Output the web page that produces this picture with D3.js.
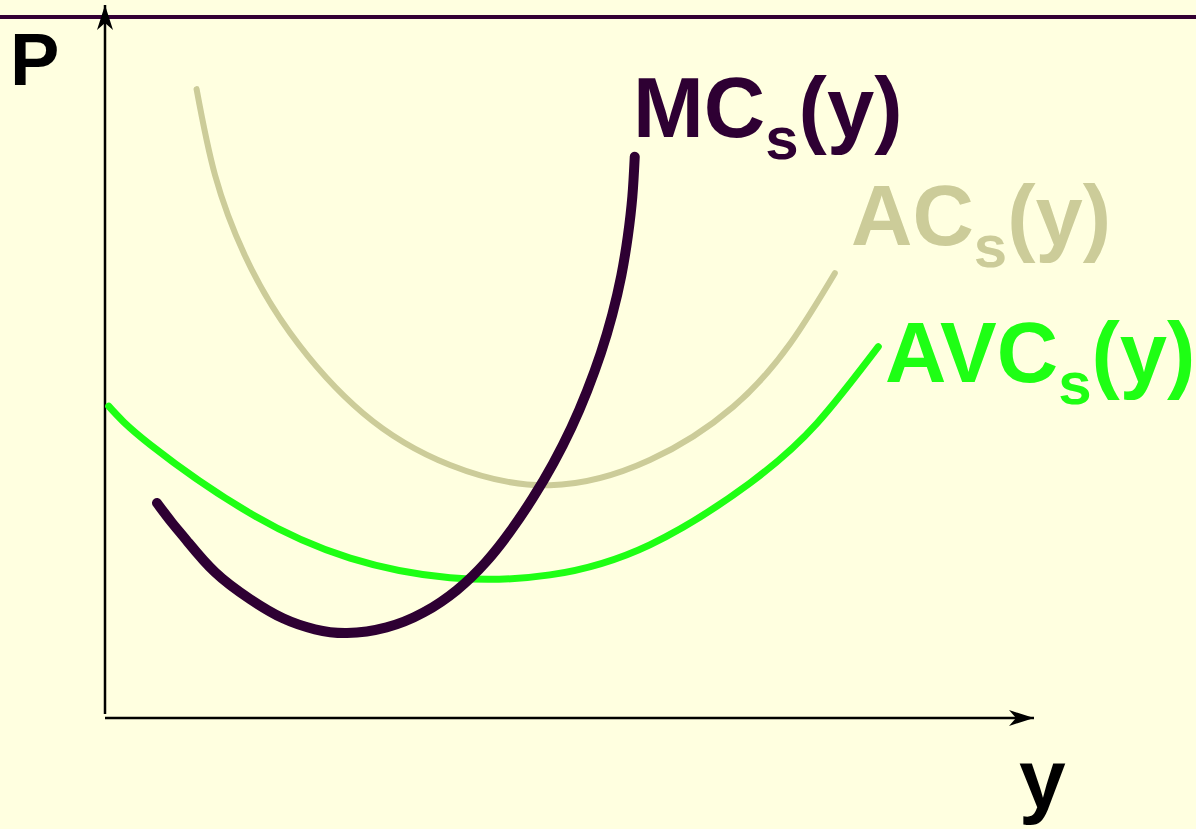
<!DOCTYPE html>
<html>
<head>
<meta charset="utf-8">
<script src="https://cdn.jsdelivr.net/npm/d3@7"></script>
<style>
  html, body { margin: 0; padding: 0; background: #FFFFE0; }
  svg { display: block; }
  text { font-family: "Liberation Sans", Arial, sans-serif; font-weight: bold; }
</style>
</head>
<body>
<svg id="chart" width="1196" height="829"></svg>
<script>
// Short-run cost curves: output y on the horizontal axis, price P on the vertical.
const mcOutput  = [0.562, 0.724, 0.886, 1.189, 1.568, 1.924, 2.270, 2.616, 3.044, 3.445, 3.804, 4.116,
                   4.385, 4.627, 4.846, 5.042, 5.212, 5.360, 5.483, 5.581, 5.652, 5.701, 5.727];
const mcPrice   = [3.057, 2.775, 2.517, 2.069, 1.684, 1.410, 1.253, 1.200, 1.280, 1.494, 1.814, 2.211,
                   2.659, 3.133, 3.624, 4.134, 4.660, 5.197, 5.744, 6.301, 6.866, 7.433, 8.003];

const acOutput  = [0.99, 1.19, 1.51, 2.00, 2.79, 3.73, 4.81, 5.89, 6.79, 7.41, 7.89];
const acPrice   = [8.97, 7.74, 6.60, 5.49, 4.34, 3.60, 3.31, 3.67, 4.43, 5.34, 6.34];

const avcOutput = [0.04, 0.49, 1.57, 2.65, 3.73, 4.81, 5.89, 6.97, 7.70, 8.36];
const avcPrice  = [4.44, 3.89, 2.91, 2.27, 1.99, 2.03, 2.46, 3.34, 4.20, 5.29];

const curveNames = ["MC", "AC", "AVC"];
const axisLabels = ["P", "y"];

const W = 1196, H = 829;
const svg = d3.select("#chart");

const x = d3.scaleLinear().domain([0, 10]).range([105, 1030]);
const y = d3.scaleLinear().domain([0, 10]).range([717, 17]);

svg.append("rect").attr("width", W).attr("height", H).attr("fill", "#FFFFE0");

// arrowheads for the axes
const defs = svg.append("defs");
defs.append("marker")
  .attr("id", "arrow")
  .attr("viewBox", "0 0 26 18")
  .attr("refX", 25).attr("refY", 9)
  .attr("markerWidth", 26).attr("markerHeight", 18)
  .attr("markerUnits", "userSpaceOnUse")
  .attr("orient", "auto")
  .append("path")
  .attr("d", "M0,1 L25,9 L0,17 L7,9 Z")
  .attr("fill", "#000");

// horizontal rule across the top
svg.append("line")
  .attr("x1", 0).attr("x2", W)
  .attr("y1", y(10)).attr("y2", y(10))
  .attr("stroke", "#330033").attr("stroke-width", 4);

// axes
svg.append("line")
  .attr("x1", x(0)).attr("y1", y(0) - 3)
  .attr("x2", x(0)).attr("y2", 5)
  .attr("stroke", "#000").attr("stroke-width", 2.5)
  .attr("marker-end", "url(#arrow)");

svg.append("line")
  .attr("x1", x(0)).attr("y1", y(0) + 1)
  .attr("x2", 1034).attr("y2", y(0) + 1)
  .attr("stroke", "#000").attr("stroke-width", 2.5)
  .attr("marker-end", "url(#arrow)");

const line = d3.line()
  .x(d => x(d[0]))
  .y(d => y(d[1]))
  .curve(d3.curveNatural);

const series = [
  { name: curveNames[1], xs: acOutput,  ys: acPrice,  color: "#CCCC99", width: 6 },
  { name: curveNames[2], xs: avcOutput, ys: avcPrice, color: "#1EFF14", width: 7 },
  { name: curveNames[0], xs: mcOutput,  ys: mcPrice,  color: "#2E0033", width: 10 }
];

series.forEach(s => {
  svg.append("path")
    .datum(s.xs.map((v, i) => [v, s.ys[i]]))
    .attr("d", line)
    .attr("fill", "none")
    .attr("stroke", s.color)
    .attr("stroke-width", s.width)
    .attr("stroke-linecap", "round")
    .attr("stroke-linejoin", "round");
});

// curve labels: name, subscript s, then (y)
function costLabel(name, color, lx, ly) {
  const t = svg.append("text")
    .attr("x", lx).attr("y", ly)
    .attr("fill", color)
    .attr("font-size", 85);
  t.append("tspan").text(name);
  t.append("tspan").attr("font-size", 60).attr("dy", 22).text("s");
  t.append("tspan").attr("dy", -22).text("(y)");
}
costLabel(curveNames[0], "#2E0033", 633, 137);
costLabel(curveNames[1], "#CCCC99", 851, 245);
costLabel(curveNames[2], "#1EFF14", 885, 382);

// axis labels
svg.append("text")
  .attr("x", 10).attr("y", 85)
  .attr("font-size", 74)
  .attr("fill", "#000")
  .text(axisLabels[0]);

svg.append("text")
  .attr("x", 1019).attr("y", 808)
  .attr("font-size", 84)
  .attr("fill", "#000")
  .text(axisLabels[1]);
</script>
</body>
</html>
